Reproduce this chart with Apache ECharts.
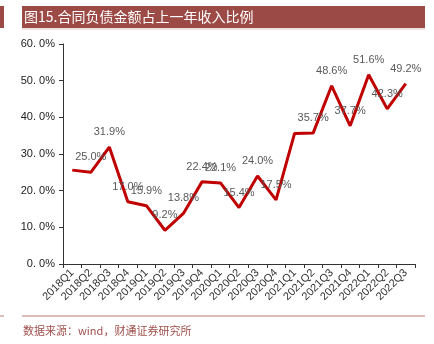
<!DOCTYPE html>
<html><head><meta charset="utf-8">
<script src="https://cdn.jsdelivr.net/npm/echarts@6/dist/echarts.min.js"></script>
<style>html,body{margin:0;padding:0;background:#fff}#c{width:434px;height:344px}</style>
</head><body><div id="c"></div>
<script>
const categories = ['2018Q1','2018Q2','2018Q3','2018Q4','2019Q1','2019Q2','2019Q3','2019Q4','2020Q1','2020Q2','2020Q3','2020Q4','2021Q1','2021Q2','2021Q3','2021Q4','2022Q1','2022Q2','2022Q3'];
const ratioValues = [25.6,25.0,31.9,17.0,15.9,9.2,13.8,22.4,22.1,15.4,24.0,17.5,35.6,35.7,48.6,37.7,51.6,42.3,49.2];
const labelShown = [false,true,true,true,true,true,true,true,true,true,true,true,false,true,true,true,true,true,true];
const yTicks = [0,10,20,30,40,50,60];
const titleText = '图15.合同负债金额占上一年收入比例';
const sourceText = '数据来源：wind，财通证券研究所';

const chart = echarts.init(document.getElementById('c'), null, {renderer:'canvas'});
chart.setOption({
  animation:false,
  backgroundColor:'#fff',
  grid:{left:63,right:19,top:44,bottom:80},
  xAxis:{
    type:'category', data:categories, boundaryGap:true,
    axisLine:{lineStyle:{color:'#333',width:1}},
    axisTick:{show:true,length:4,lineStyle:{color:'#333'}},
    axisLabel:{rotate:45,fontSize:11,color:'#333',fontFamily:'Arial, Liberation Sans',margin:7,interval:0}
  },
  yAxis:{
    type:'value', min:yTicks[0], max:yTicks[yTicks.length-1], interval:10,
    splitLine:{show:false},
    axisLine:{show:true,lineStyle:{color:'#333',width:1}},
    axisTick:{show:true,length:4,lineStyle:{color:'#333'}},
    axisLabel:{fontSize:11,color:'#222',fontFamily:'Arial, Liberation Sans',margin:8,
      formatter:v=>v.toFixed(1).replace('.', '. ')+'%'}
  },
  series:[{
    type:'line', symbol:'circle', symbolSize:1, showSymbol:true,
    itemStyle:{color:'rgba(0,0,0,0)'},
    lineStyle:{color:'#C00000',width:3},
    data:ratioValues.map((v,i)=>({value:v,label:{show:labelShown[i]}})),
    label:{show:true,position:'top',distance:9,fontSize:11,color:'#595959',fontFamily:'Arial, Liberation Sans',
      formatter:p=>p.value.toFixed(1)+'%'}
  }],
  graphic:[
    {type:'rect',shape:{x:0,y:6,width:4,height:22},style:{fill:'#9C4A46'}},
    {type:'rect',shape:{x:22,y:6,width:403,height:22},style:{fill:'#9C4A46'}},
    {type:'rect',shape:{x:22,y:28.5,width:403,height:1},style:{fill:'#E3C3C0'}},
    {type:'text',x:24,y:17,style:{text:titleText,fill:'#fff',font:'14px "Noto Sans CJK SC"',textVerticalAlign:'middle'}},
    {type:'rect',shape:{x:0,y:315.5,width:4,height:1},style:{fill:'#C07A76'}},
    {type:'rect',shape:{x:22,y:315.5,width:403,height:1},style:{fill:'#C07A76'}},
    {type:'text',x:23,y:331,style:{text:sourceText,fill:'#A0504C',font:'11px "Noto Sans CJK SC"',textVerticalAlign:'middle'}}
  ]
});
</script></body></html>
